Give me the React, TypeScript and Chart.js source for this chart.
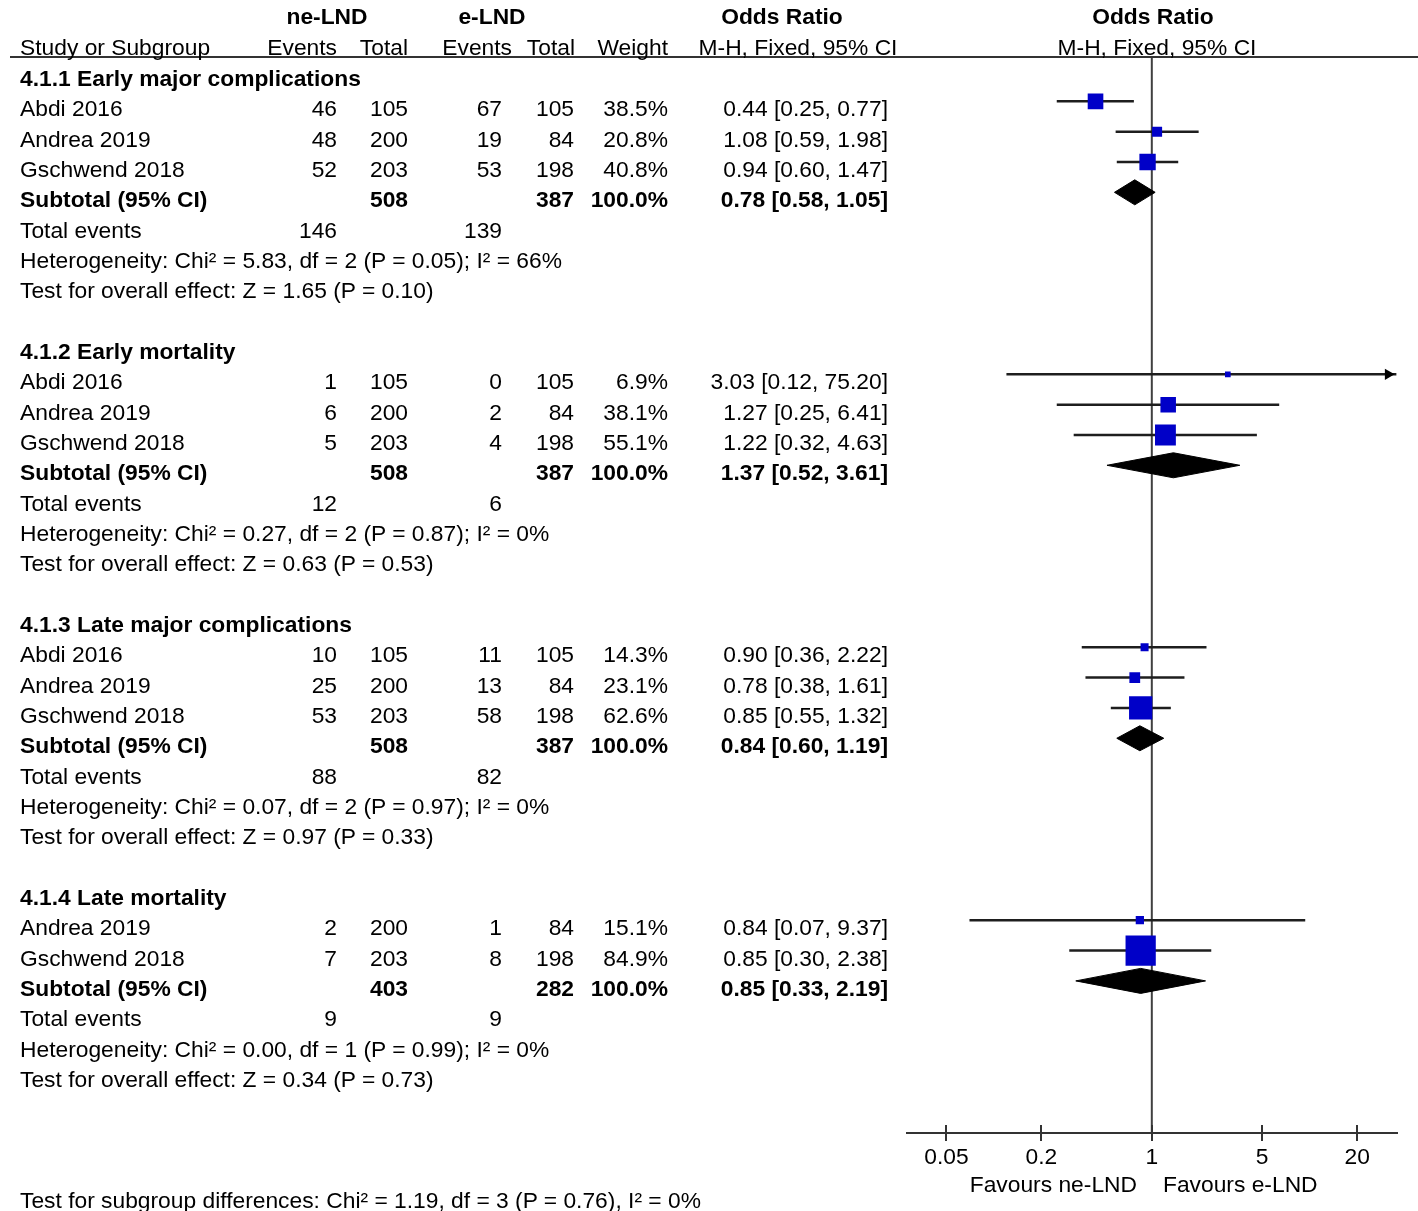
import React, { useEffect, useRef } from "react";
import { Chart, registerables } from "chart.js";

Chart.register(...registerables);

// ---------------- data ----------------
const subgroupTitles = [
  "4.1.1 Early major complications",
  "4.1.2 Early mortality",
  "4.1.3 Late major complications",
  "4.1.4 Late mortality",
];
const studyNames = [
  ["Abdi 2016", "Andrea 2019", "Gschwend 2018"],
  ["Abdi 2016", "Andrea 2019", "Gschwend 2018"],
  ["Abdi 2016", "Andrea 2019", "Gschwend 2018"],
  ["Andrea 2019", "Gschwend 2018"],
];
const neEvents = [[46, 48, 52], [1, 6, 5], [10, 25, 53], [2, 7]];
const neTotal = [[105, 200, 203], [105, 200, 203], [105, 200, 203], [200, 203]];
const eEvents = [[67, 19, 53], [0, 2, 4], [11, 13, 58], [1, 8]];
const eTotal = [[105, 84, 198], [105, 84, 198], [105, 84, 198], [84, 198]];
const weights = [[38.5, 20.8, 40.8], [6.9, 38.1, 55.1], [14.3, 23.1, 62.6], [15.1, 84.9]];
const orEst = [[0.44, 1.08, 0.94], [3.03, 1.27, 1.22], [0.9, 0.78, 0.85], [0.84, 0.85]];
const orLo = [[0.25, 0.59, 0.6], [0.12, 0.25, 0.32], [0.36, 0.38, 0.55], [0.07, 0.3]];
const orHi = [[0.77, 1.98, 1.47], [75.2, 6.41, 4.63], [2.22, 1.61, 1.32], [9.37, 2.38]];
const subNeTotal = [508, 508, 508, 403];
const subETotal = [387, 387, 387, 282];
const subEst = [0.78, 1.37, 0.84, 0.85];
const subLo = [0.58, 0.52, 0.6, 0.33];
const subHi = [1.05, 3.61, 1.19, 2.19];
const totalNeEvents = [146, 12, 88, 9];
const totalEEvents = [139, 6, 82, 9];
const heterogeneity = [
  "Heterogeneity: Chi² = 5.83, df = 2 (P = 0.05); I² = 66%",
  "Heterogeneity: Chi² = 0.27, df = 2 (P = 0.87); I² = 0%",
  "Heterogeneity: Chi² = 0.07, df = 2 (P = 0.97); I² = 0%",
  "Heterogeneity: Chi² = 0.00, df = 1 (P = 0.99); I² = 0%",
];
const overallEffect = [
  "Test for overall effect: Z = 1.65 (P = 0.10)",
  "Test for overall effect: Z = 0.63 (P = 0.53)",
  "Test for overall effect: Z = 0.97 (P = 0.33)",
  "Test for overall effect: Z = 0.34 (P = 0.73)",
];
const subgroupDiff = "Test for subgroup differences: Chi² = 1.19, df = 3 (P = 0.76), I² = 0%";
const xTicks = [0.05, 0.2, 1, 5, 20];
const favoursLeft = "Favours ne-LND";
const favoursRight = "Favours e-LND";

// ---------------- layout / style ----------------
const W = 1418;
const H = 1211;
const FONT = '"Liberation Sans", Arial, Helvetica, sans-serif';
const FS = 22.8;
const ROW_PX = 30.33;
const TEXT_Y0 = 78;
const PLOT_Y0 = 71;
const AREA_TOP = 57;
const AREA_BOTTOM = 1133;
const AREA_LEFT = 907;
const AREA_RIGHT = 1397;
const DECADES = 1.5506;
const PX_PER_DECADE = (AREA_RIGHT - AREA_LEFT) / (2 * DECADES);
const X_MIN = Math.pow(10, -DECADES);
const X_MAX = Math.pow(10, DECADES);
const Y_MIN = (AREA_TOP - PLOT_Y0) / ROW_PX;
const Y_MAX = (AREA_BOTTOM - PLOT_Y0) / ROW_PX;
const DIAMOND_HALF = 12.5 / ROW_PX;
const ARROW_R = 6.5;
const COL = { name: 20, neEv: 337, neTot: 408, eEv: 502, eTot: 574, w: 668, or: 888 };
const LINE = "#333333";
const BLUE = "#0000c8";

const fmtOR = (e: number, l: number, h: number) => `${e.toFixed(2)} [${l.toFixed(2)}, ${h.toFixed(2)}]`;
const sideFromWeight = (w: number) => 3.5 + 0.315 * w;

type Tx = { x: number; y: number; s: string; a: "l" | "r" | "c"; b?: boolean };

function buildRows() {
  const texts: Tx[] = [];
  const studies: { r: number; est: number; lo: number; hi: number; w: number }[] = [];
  const subs: { r: number; est: number; lo: number; hi: number }[] = [];
  const ty = (r: number) => TEXT_Y0 + ROW_PX * r;
  let base = 0;
  subgroupTitles.forEach((title, g) => {
    texts.push({ x: COL.name, y: ty(base), s: title, a: "l", b: true });
    const n = studyNames[g].length;
    studyNames[g].forEach((nm, i) => {
      const r = base + 1 + i;
      const y = ty(r);
      texts.push({ x: COL.name, y, s: nm, a: "l" });
      texts.push({ x: COL.neEv, y, s: String(neEvents[g][i]), a: "r" });
      texts.push({ x: COL.neTot, y, s: String(neTotal[g][i]), a: "r" });
      texts.push({ x: COL.eEv, y, s: String(eEvents[g][i]), a: "r" });
      texts.push({ x: COL.eTot, y, s: String(eTotal[g][i]), a: "r" });
      texts.push({ x: COL.w, y, s: weights[g][i].toFixed(1) + "%", a: "r" });
      texts.push({ x: COL.or, y, s: fmtOR(orEst[g][i], orLo[g][i], orHi[g][i]), a: "r" });
      studies.push({ r, est: orEst[g][i], lo: orLo[g][i], hi: orHi[g][i], w: weights[g][i] });
    });
    const rs = base + 1 + n;
    let y = ty(rs);
    texts.push({ x: COL.name, y, s: "Subtotal (95% CI)", a: "l", b: true });
    texts.push({ x: COL.neTot, y, s: String(subNeTotal[g]), a: "r", b: true });
    texts.push({ x: COL.eTot, y, s: String(subETotal[g]), a: "r", b: true });
    texts.push({ x: COL.w, y, s: "100.0%", a: "r", b: true });
    texts.push({ x: COL.or, y, s: fmtOR(subEst[g], subLo[g], subHi[g]), a: "r", b: true });
    subs.push({ r: rs, est: subEst[g], lo: subLo[g], hi: subHi[g] });
    y = ty(rs + 1);
    texts.push({ x: COL.name, y, s: "Total events", a: "l" });
    texts.push({ x: COL.neEv, y, s: String(totalNeEvents[g]), a: "r" });
    texts.push({ x: COL.eEv, y, s: String(totalEEvents[g]), a: "r" });
    texts.push({ x: COL.name, y: ty(rs + 2), s: heterogeneity[g], a: "l" });
    texts.push({ x: COL.name, y: ty(rs + 3), s: overallEffect[g], a: "l" });
    base += n + 6;
  });
  texts.push({ x: COL.name, y: ty(base + 2), s: subgroupDiff, a: "l" });
  // headers
  texts.push({ x: 327, y: 16, s: "ne-LND", a: "c", b: true });
  texts.push({ x: 492, y: 16, s: "e-LND", a: "c", b: true });
  texts.push({ x: 782, y: 16, s: "Odds Ratio", a: "c", b: true });
  texts.push({ x: 1153, y: 16, s: "Odds Ratio", a: "c", b: true });
  texts.push({ x: COL.name, y: 47, s: "Study or Subgroup", a: "l" });
  texts.push({ x: 337, y: 47, s: "Events", a: "r" });
  texts.push({ x: 408, y: 47, s: "Total", a: "r" });
  texts.push({ x: 512, y: 47, s: "Events", a: "r" });
  texts.push({ x: 575, y: 47, s: "Total", a: "r" });
  texts.push({ x: 668, y: 47, s: "Weight", a: "r" });
  texts.push({ x: 798, y: 47, s: "M-H, Fixed, 95% CI", a: "c" });
  texts.push({ x: 1157, y: 47, s: "M-H, Fixed, 95% CI", a: "c" });
  texts.push({ x: 1137, y: 1184, s: favoursLeft, a: "r" });
  texts.push({ x: 1163, y: 1184, s: favoursRight, a: "l" });
  return { texts, studies, subs };
}

const { texts, studies, subs } = buildRows();

function Txt({ t }: { t: Tx }) {
  const tr = t.a === "r" ? "translate(-100%,-50%)" : t.a === "c" ? "translate(-50%,-50%)" : "translate(0,-50%)";
  return (
    <div
      style={{
        position: "absolute",
        left: t.x,
        top: t.y,
        transform: tr,
        whiteSpace: "nowrap",
        fontFamily: FONT,
        fontSize: FS,
        lineHeight: 1,
        fontWeight: t.b ? 700 : 400,
        color: "#000",
      }}
    >
      {t.s}
    </div>
  );
}

const tickUpPlugin = {
  id: "tickUp",
  afterDraw(chart: any) {
    const s = chart.scales.x;
    const c = chart.ctx;
    c.save();
    c.strokeStyle = LINE;
    c.lineWidth = 2;
    s.ticks.forEach((t: any) => {
      const px = Math.round(s.getPixelForValue(t.value));
      c.beginPath();
      c.moveTo(px, s.top - 8);
      c.lineTo(px, s.top);
      c.stroke();
    });
    c.restore();
  },
};

export default function App() {
  const ref = useRef<HTMLCanvasElement | null>(null);

  useEffect(() => {
    const canvas = ref.current;
    if (!canvas) return;
    const datasets: any[] = [];

    // line of no effect
    datasets.push({
      type: "line",
      data: [{ x: 1, y: Y_MIN }, { x: 1, y: Y_MAX }],
      borderColor: "#404040",
      borderWidth: 2,
      pointRadius: 0,
      order: 10,
    });

    // confidence intervals
    studies.forEach((s) => {
      datasets.push({
        type: "line",
        data: [{ x: Math.max(s.lo, X_MIN), y: s.r }, { x: Math.min(s.hi, X_MAX), y: s.r }],
        borderColor: "#1e1e1e",
        borderWidth: 2.5,
        pointRadius: 0,
        order: 5,
      });
    });

    // arrows for intervals beyond the axis (tip placed at the axis end)
    const arrowX = X_MAX / Math.pow(10, (ARROW_R + 2) / PX_PER_DECADE);
    const arrows = studies.filter((s) => s.hi > X_MAX).map((s) => ({ x: arrowX, y: s.r }));
    if (arrows.length) {
      datasets.push({
        type: "scatter",
        data: arrows,
        pointStyle: "triangle",
        rotation: 90,
        pointRadius: ARROW_R,
        backgroundColor: "#000",
        borderColor: "#000",
        borderWidth: 0,
        clip: false,
        order: 4,
      });
    }

    // study squares
    datasets.push({
      type: "scatter",
      data: studies.map((s) => ({ x: s.est, y: s.r })),
      pointStyle: "rect",
      pointRadius: studies.map((s) => sideFromWeight(s.w) / Math.SQRT2),
      backgroundColor: BLUE,
      borderColor: BLUE,
      borderWidth: 0,
      order: 1,
    });

    // subtotal diamonds
    subs.forEach((d) => {
      datasets.push({
        type: "line",
        data: [
          { x: d.lo, y: d.r },
          { x: d.est, y: d.r - DIAMOND_HALF },
          { x: d.hi, y: d.r },
          { x: d.est, y: d.r + DIAMOND_HALF },
          { x: d.lo, y: d.r },
        ],
        borderColor: "#000",
        backgroundColor: "#000",
        borderWidth: 1,
        pointRadius: 0,
        fill: "shape",
        tension: 0,
        order: 2,
      });
    });

    const chart = new Chart(canvas, {
      type: "scatter",
      data: { datasets },
      options: {
        animation: false,
        responsive: false,
        events: [],
        layout: { padding: { left: AREA_LEFT, right: W - AREA_RIGHT, top: AREA_TOP, bottom: 0 } },
        plugins: { legend: { display: false }, tooltip: { enabled: false } },
        scales: {
          x: {
            type: "logarithmic",
            position: "bottom",
            min: X_MIN,
            max: X_MAX,
            border: { display: true, color: LINE, width: 2 },
            grid: { display: true, drawOnChartArea: false, drawTicks: true, tickLength: 8, color: LINE, lineWidth: 2 },
            ticks: {
              color: "#000",
              font: { family: FONT, size: FS },
              padding: 3,
              maxRotation: 0,
              autoSkip: false,
              callback: (v: any) => String(Number(v)),
            },
            afterBuildTicks: (s: any) => {
              s.ticks = xTicks.map((v) => ({ value: v }));
            },
            afterFit: (s: any) => {
              s.height = H - AREA_BOTTOM;
            },
          },
          y: {
            type: "linear",
            reverse: true,
            min: Y_MIN,
            max: Y_MAX,
            display: false,
          },
        },
      } as any,
      plugins: [tickUpPlugin],
    });
    return () => chart.destroy();
  }, []);

  return (
    <div style={{ position: "absolute", left: 0, top: 0, width: W, height: H, background: "#fff", overflow: "hidden" }}>
      <canvas ref={ref} width={W} height={H} style={{ position: "absolute", left: 0, top: 0, width: W, height: H }} />
      <div style={{ position: "absolute", left: 10, top: 56, width: W - 10, height: 2, background: LINE }} />
      {texts.map((t, i) => (
        <Txt key={i} t={t} />
      ))}
    </div>
  );
}
